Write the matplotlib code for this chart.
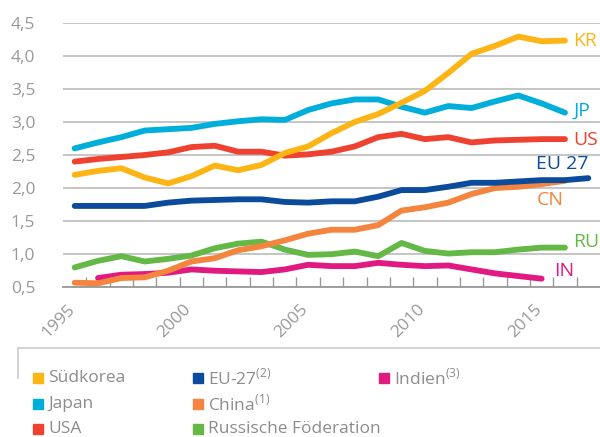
import numpy as np
import matplotlib.pyplot as plt
from matplotlib.lines import Line2D
from matplotlib.patches import Rectangle
from matplotlib.transforms import ScaledTranslation
from matplotlib.ticker import FuncFormatter, MultipleLocator

plt.rcParams['font.family'] = ['Open Sans', 'DejaVu Sans']
plt.rcParams['mathtext.fontset'] = 'custom'
plt.rcParams['mathtext.rm'] = 'Open Sans'

years = list(range(1995, 2018))

kr = [2.20, 2.26, 2.30, 2.16, 2.07, 2.18, 2.34, 2.27, 2.35, 2.53, 2.63, 2.83,
      3.00, 3.12, 3.29, 3.47, 3.74, 4.03, 4.15, 4.29, 4.22, 4.23]
jp = [2.60, 2.69, 2.77, 2.87, 2.89, 2.91, 2.97, 3.01, 3.04, 3.03, 3.18, 3.28,
      3.34, 3.34, 3.23, 3.14, 3.24, 3.21, 3.31, 3.40, 3.28, 3.14]
us = [2.40, 2.44, 2.47, 2.50, 2.54, 2.62, 2.64, 2.55, 2.55, 2.49, 2.51, 2.55,
      2.63, 2.77, 2.82, 2.74, 2.77, 2.69, 2.72, 2.73, 2.74, 2.74]
eu = [1.73, 1.73, 1.73, 1.73, 1.78, 1.81, 1.82, 1.83, 1.83, 1.79, 1.78, 1.80,
      1.80, 1.87, 1.97, 1.97, 2.02, 2.08, 2.08, 2.10, 2.12, 2.12, 2.15]
cn = [0.57, 0.56, 0.64, 0.65, 0.75, 0.89, 0.94, 1.06, 1.12, 1.21, 1.31, 1.37,
      1.37, 1.44, 1.66, 1.71, 1.78, 1.91, 2.00, 2.02, 2.06, 2.11]
ru = [0.80, 0.90, 0.97, 0.89, 0.93, 0.98, 1.09, 1.16, 1.19, 1.07, 0.99, 1.00,
      1.04, 0.97, 1.17, 1.05, 1.01, 1.03, 1.03, 1.07, 1.10, 1.10]
ind = [0.64, 0.69, 0.70, 0.72, 0.77, 0.75, 0.74, 0.73, 0.77, 0.84, 0.82, 0.82,
       0.87, 0.84, 0.82, 0.83, 0.77, 0.71, 0.67, 0.63]
ind_start = 1996

tags = ['KR', 'JP', 'US', 'EU 27', 'CN', 'RU', 'IN']
names = ['Südkorea', 'Japan', 'USA', r'EU-27$^{\mathrm{(2)}}$', r'China$^{\mathrm{(1)}}$',
         'Russische Föderation', r'Indien$^{\mathrm{(3)}}$']
colors = ['#FDB515', '#00AEDB', '#EE4130', '#0A4B9C', '#F5843F', '#63B846', '#E01A80']

series = [(years[:len(kr)], kr), (years[:len(jp)], jp), (years[:len(us)], us),
          (years[:len(eu)], eu), (years[:len(cn)], cn), (years[:len(ru)], ru),
          (list(range(ind_start, ind_start + len(ind))), ind)]

fig = plt.figure(figsize=(6, 4.37), dpi=100)
ax = fig.add_axes([0.105, 0.3426, 0.895, 0.6054])

# draw order: lower ones first
for i in [6, 5, 4, 3, 2, 1, 0]:
    x, y = series[i]
    ax.plot(x, y, color=colors[i], lw=4.2, solid_capstyle='round', solid_joinstyle='round', zorder=3)

# labels at line ends
label_pos = {0: (2016.35, 4.22), 1: (2016.35, 3.17), 2: (2016.35, 2.72),
             3: (2014.75, 2.37), 4: (2014.8, 1.82), 5: (2016.35, 1.18),
             6: (2015.55, 0.75)}
for i, (lx, ly) in label_pos.items():
    ax.text(lx, ly, tags[i], color=colors[i], fontsize=14, ha='left', va='center')

ax.set_xlim(1994.5, 2017.5)
ax.set_ylim(0.5, 4.5)
ax.yaxis.set_major_locator(MultipleLocator(0.5))
ax.yaxis.set_major_formatter(FuncFormatter(lambda v, p: f'{v:.1f}'.replace('.', ',')))
ax.grid(axis='y', color='#b5b5b5', lw=1.1, zorder=0)
ax.set_xticks([1995, 2000, 2005, 2010, 2015])
ax.set_xticks(np.arange(1995.5, 2017.5, 1), minor=True)
ax.tick_params(axis='x', which='major', length=0, labelsize=12.5, labelcolor='#999999', pad=10)
ax.tick_params(axis='x', which='minor', length=7, direction='in', color='#999999', width=1)
ax.tick_params(axis='y', length=0, labelsize=12.5, labelcolor='#999999', pad=20)
shift = ScaledTranslation(-8 / 100, 0, fig.dpi_scale_trans)
for lbl in ax.get_xticklabels():
    lbl.set_rotation(45)
    lbl.set_ha('right')
    lbl.set_rotation_mode('anchor')
    lbl.set_transform(lbl.get_transform() + shift)
for s in ['left', 'right', 'top']:
    ax.spines[s].set_visible(False)
ax.spines['bottom'].set_color('#999999')
ax.spines['bottom'].set_linewidth(1.3)
ax.spines['bottom'].set_zorder(4)

# legend frame (top and left edge)
W, H = 600, 437
fig.add_artist(Line2D([18 / W, 1.0], [1 - 348 / H] * 2, color='#cccccc', lw=1.2))
fig.add_artist(Line2D([18 / W] * 2, [1 - 348 / H, 1 - 378 / H], color='#cccccc', lw=1.2))

# legend entries, filled column by column
col_x = [33, 193, 379]
row_y = [378, 404, 429]
slots = [(0, 0), (0, 1), (0, 2), (1, 0), (1, 1), (1, 2), (2, 0)]
for i, (c, r) in enumerate(slots):
    x0, y0 = col_x[c], row_y[r]
    fig.add_artist(Rectangle((x0 / W, 1 - (y0 + 5) / H), 10 / W, 10 / H,
                             color=colors[i], transform=fig.transFigure))
    fig.text((x0 + 15) / W, 1 - y0 / H, names[i], color='#8c8c8c', fontsize=12.5,
             va='center', ha='left')

fig.savefig('out.png', dpi=100)
